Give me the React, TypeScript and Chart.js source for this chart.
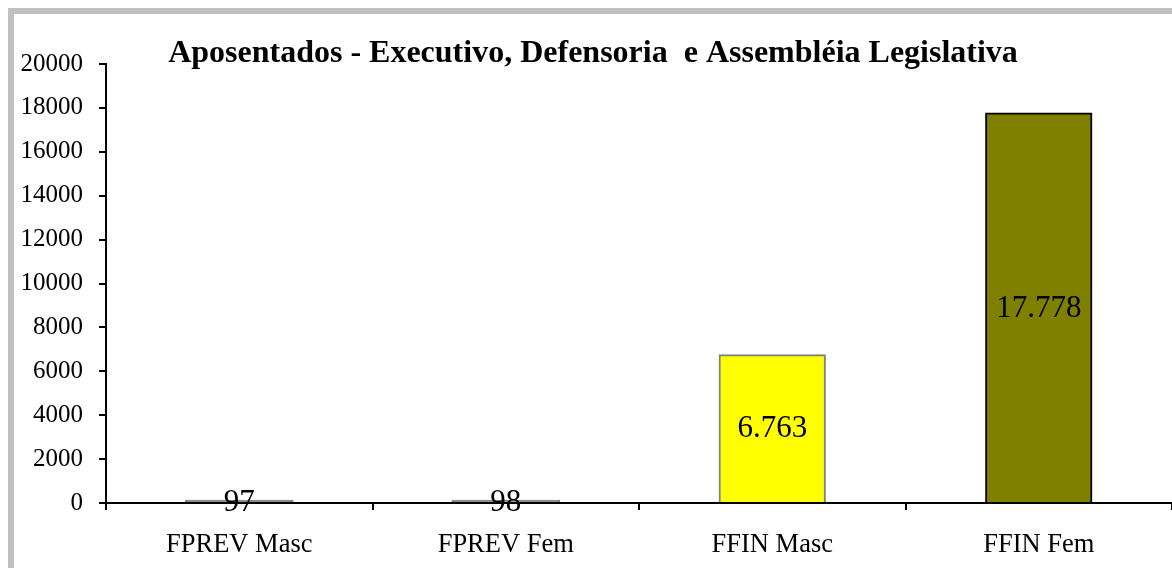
import React, { useEffect, useRef } from "react";
import { Chart, registerables } from "chart.js";

Chart.register(...registerables);

const titleText = "Aposentados - Executivo, Defensoria  e Assembléia Legislativa";
const categories = ["FPREV Masc", "FPREV Fem", "FFIN Masc", "FFIN Fem"];
const values = [97, 98, 6763, 17778];
const fillColors = ["#909090", "#909090", "#FFFF00", "#808000"];
const borderColors = ["#808080", "#808080", "#808080", "#000000"];
const yMin = 0;
const yMax = 20000;
const yStep = 2000;

const FONT = '"Liberation Serif", "Times New Roman", serif';

function fmt(v: number): string {
  const s = String(Math.round(v));
  return s.replace(/\B(?=(\d{3})+(?!\d))/g, ".");
}

const valueLabels = {
  id: "valueLabels",
  afterDatasetsDraw(chart: any) {
    const ctx = chart.ctx;
    const meta = chart.getDatasetMeta(0);
    ctx.save();
    ctx.font = `31px ${FONT}`;
    ctx.fillStyle = "#000";
    ctx.textAlign = "center";
    ctx.textBaseline = "middle";
    meta.data.forEach((el: any, i: number) => {
      const p = el.getProps(["x", "y", "base"], true);
      ctx.fillText(fmt(values[i]), p.x, (p.y + p.base) / 2 + 1);
    });
    ctx.restore();
  },
};

export default function App() {
  const ref = useRef<HTMLCanvasElement | null>(null);

  useEffect(() => {
    if (!ref.current) return;
    const chart = new Chart(ref.current, {
      type: "bar",
      data: {
        labels: categories,
        datasets: [
          {
            data: values,
            backgroundColor: fillColors,
            borderColor: borderColors,
            borderWidth: 2,
            categoryPercentage: 1,
            barPercentage: 0.4,
            inflateAmount: (c: any) => (values[c.dataIndex] < 1000 ? 1 : 0.33),
          },
        ],
      },
      options: {
        animation: false,
        responsive: false,
        maintainAspectRatio: false,
        devicePixelRatio: 1,
        layout: { padding: { top: 0, left: 0, right: 0, bottom: 0 } },
        plugins: {
          legend: { display: false },
          tooltip: { enabled: false },
          title: {
            display: true,
            text: titleText,
            color: "#000",
            font: { family: FONT, size: 32, weight: "bold", lineHeight: 1.2 },
            padding: { top: 21, bottom: -9.4 },
          },
        },
        scales: {
          x: {
            grid: {
              display: true,
              offset: true,
              drawOnChartArea: false,
              drawTicks: true,
              tickLength: 7,
              color: "#000",
              lineWidth: 2,
            },
            border: { display: true, color: "#000", width: 2 },
            ticks: {
              color: "#000",
              font: { family: FONT, size: 26.5 },
              padding: 19,
              maxRotation: 0,
              autoSkip: false,
            },
            afterFit: (scale: any) => {
              scale.height = 65;
            },
          },
          y: {
            min: yMin,
            max: yMax,
            grid: {
              display: true,
              drawOnChartArea: false,
              drawTicks: true,
              tickLength: 7,
              color: "#000",
              lineWidth: 2,
            },
            border: { display: true, color: "#000", width: 2 },
            ticks: {
              stepSize: yStep,
              color: "#000",
              font: { family: FONT, size: 25 },
              padding: 16,
              callback: (v: any) => String(v),
            },
            afterFit: (scale: any) => {
              scale.width = 92;
            },
          },
        },
      },
      plugins: [valueLabels],
    });
    return () => chart.destroy();
  }, []);

  return (
    <div
      style={{
        position: "fixed",
        left: 8,
        top: 8,
        width: 1164,
        height: 560,
        boxSizing: "border-box",
        borderTop: "6px solid #c0c0c0",
        borderLeft: "6px solid #c0c0c0",
        background: "#fff",
        overflow: "hidden",
      }}
    >
      <canvas
        ref={ref}
        width={1158}
        height={554}
        style={{ position: "absolute", left: 0, top: 0, width: 1158, height: 554 }}
      />
    </div>
  );
}
